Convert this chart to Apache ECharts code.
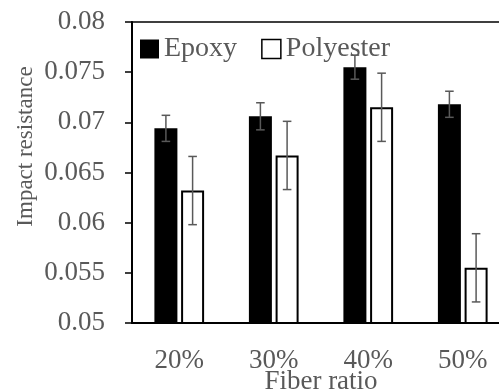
<!DOCTYPE html>
<html>
<head>
<meta charset="utf-8">
<script src="https://cdn.jsdelivr.net/npm/echarts@6/dist/echarts.min.js"></script>
<style>
  html, body { margin: 0; padding: 0; background: #fff; }
  #chart { width: 499px; height: 392px; }
</style>
</head>
<body>
<div id="chart"></div>
<script>
// fiber ratio categories
const categories = ['20%', '30%', '40%', '50%']
// impact resistance, mean values
const epoxy = [0.0694, 0.0706, 0.0755, 0.0718]
const polyester = [0.0632, 0.0667, 0.0715, 0.0555]
// standard deviation (error bars)
const epoxyErr = [0.0013, 0.00135, 0.0012, 0.0013]
const polyesterErr = [0.0034, 0.0034, 0.0034, 0.0034]
// y axis range
const yMin = 0.05
const yMax = 0.08
const yStep = 0.005

const textColor = '#595959'
const font = 'Liberation Serif'
const barW = 23
const barGap = 3.7

const chart = echarts.init(document.getElementById('chart'))

// error bar drawn with a custom series, shifted to sit over its bar
function errorSeries(name, means, errs, side) {
  return {
    type: 'custom',
    name: name + ' err',
    z: 10,
    silent: true,
    data: means.map((m, i) => [i, m - errs[i], m + errs[i]]),
    renderItem: (params, api) => {
      const lo = api.coord([api.value(0), api.value(1)])
      const hi = api.coord([api.value(0), api.value(2)])
      const x = lo[0] + side * (barW + barGap) / 2
      const cap = 4.3
      const style = { stroke: '#595959', lineWidth: 1.5 }
      return {
        type: 'group',
        children: [
          { type: 'line', shape: { x1: x, y1: lo[1], x2: x, y2: hi[1] }, style },
          { type: 'line', shape: { x1: x - cap, y1: lo[1], x2: x + cap, y2: lo[1] }, style },
          { type: 'line', shape: { x1: x - cap, y1: hi[1], x2: x + cap, y2: hi[1] }, style }
        ]
      }
    }
  }
}

const option = {
  animation: false,
  textStyle: { fontFamily: font },
  grid: {
    left: 132,
    width: 378,
    top: 22,
    height: 301,
    outerBoundsMode: 'none',
    containLabel: false,
    show: true,
    borderColor: '#000',
    borderWidth: 1.5
  },
  legend: {
    left: 135,
    top: 30,
    itemWidth: 19,
    itemHeight: 19,
    itemGap: 24,
    textStyle: { fontFamily: font, fontSize: 28, color: textColor },
    data: [
      { name: 'Epoxy', icon: 'rect', itemStyle: { color: '#000' } },
      { name: 'Polyester', icon: 'rect', itemStyle: { color: '#fff', borderColor: '#000', borderWidth: 1.5 } }
    ]
  },
  xAxis: {
    type: 'category',
    data: categories,
    name: 'Fiber ratio',
    nameLocation: 'middle',
    nameGap: 45,
    nameMoveOverlap: false,
    nameTextStyle: { fontFamily: font, fontSize: 27, color: textColor },
    axisLine: { lineStyle: { color: '#000', width: 2 } },
    axisTick: { show: false },
    axisLabel: { fontFamily: font, fontSize: 27, color: textColor, margin: 24 }
  },
  yAxis: {
    type: 'value',
    min: yMin,
    max: yMax,
    interval: yStep,
    name: 'Impact resistance',
    nameLocation: 'middle',
    nameGap: 95,
    nameMoveOverlap: false,
    nameTextStyle: { fontFamily: font, fontSize: 23, color: textColor, padding: [0, 0, 0, 52] },
    splitLine: { show: false },
    axisLine: { show: true, lineStyle: { color: '#000', width: 2 } },
    axisTick: { show: true, length: 7, lineStyle: { color: '#000', width: 1.5 } },
    axisLabel: { fontFamily: font, fontSize: 27, color: textColor, margin: 27 }
  },
  series: [
    {
      name: 'Epoxy',
      type: 'bar',
      data: epoxy,
      barWidth: barW,
      barGap: (barGap / barW * 100) + '%',
      itemStyle: { color: '#000' }
    },
    {
      name: 'Polyester',
      type: 'bar',
      data: polyester,
      barWidth: barW,
      itemStyle: { color: '#fff', borderColor: '#000', borderWidth: 2 }
    },
    errorSeries('Epoxy', epoxy, epoxyErr, -1),
    errorSeries('Polyester', polyester, polyesterErr, 1)
  ]
}

chart.setOption(option)
</script>
</body>
</html>
